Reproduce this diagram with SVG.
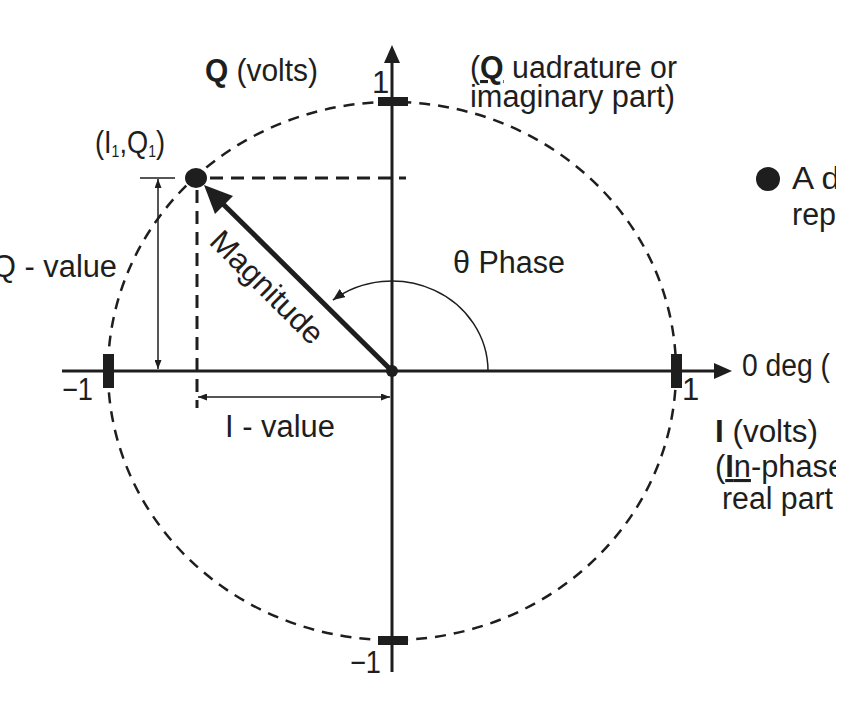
<svg xmlns="http://www.w3.org/2000/svg" width="864" height="710" viewBox="0 0 864 710">
<style>
.t{font-family:"Liberation Sans",Arial,sans-serif;font-size:31px;fill:#1e1e1e}
.b{font-weight:bold}
.ax{stroke:#1e1e1e;stroke-width:3;fill:none}
.dash{stroke:#1e1e1e;stroke-width:3;fill:none;stroke-dasharray:13 8}
.circ{stroke:#1e1e1e;stroke-width:2.5;fill:none;stroke-dasharray:11 8}
.thin{stroke:#1e1e1e;stroke-width:1.5;fill:none}
.tick{fill:#1e1e1e}
</style>
<defs>
<marker id="axarr" viewBox="0 0 18 16" refX="12" refY="8" markerWidth="18" markerHeight="16" markerUnits="userSpaceOnUse" orient="auto"><path d="M0,0 L18,8 L0,16 z" fill="#1e1e1e"/></marker>
<marker id="sm" viewBox="0 0 12 10" refX="12" refY="5" markerWidth="12" markerHeight="10" markerUnits="userSpaceOnUse" orient="auto"><path d="M0,0 L12,5 L0,10 z" fill="#1e1e1e"/></marker>
<marker id="dim" viewBox="0 0 9 7" refX="9" refY="3.5" markerWidth="9" markerHeight="7" markerUnits="userSpaceOnUse" orient="auto-start-reverse"><path d="M0,0 L9,3.5 L0,7 z" fill="#1e1e1e"/></marker>
<clipPath id="cr"><rect x="0" y="0" width="836" height="710"/></clipPath>
</defs>
<rect width="864" height="710" fill="#fff"/>

<g id="unit-circle">
<ellipse class="circ" cx="392" cy="371" rx="284" ry="269"/>
</g>

<g id="axes">
<line class="ax" x1="62" y1="371" x2="726" y2="371" marker-end="url(#axarr)"/>
<line class="ax" x1="392" y1="672" x2="392" y2="51" marker-end="url(#axarr)"/>
<rect class="tick" x="378" y="97" width="30" height="9"/>
<rect class="tick" x="378" y="636" width="30" height="9"/>
<rect class="tick" x="103" y="354" width="11" height="34"/>
<rect class="tick" x="671" y="354" width="11" height="34"/>
<circle cx="392" cy="371" r="6" fill="#1e1e1e"/>
</g>

<g id="connectors">
<line class="dash" x1="210" y1="178" x2="406" y2="178"/>
<line class="dash" x1="197" y1="190" x2="197" y2="408"/>
<line class="thin" x1="140" y1="178" x2="175" y2="178"/>
<line class="thin" x1="158" y1="179" x2="158" y2="369" marker-start="url(#dim)" marker-end="url(#dim)"/>
<line class="thin" x1="198" y1="397" x2="390" y2="397" marker-start="url(#dim)" marker-end="url(#dim)"/>
<path class="thin" d="M488,371 A96,90 0 0 0 332.9,300.1" marker-end="url(#sm)"/>
</g>

<g id="magnitude">
<line x1="392" y1="371" x2="222" y2="203" stroke="#1e1e1e" stroke-width="5"/>
<polygon points="204,185 233,196 215,214" fill="#1e1e1e"/>
<text class="t" transform="translate(208,243) rotate(45)" textLength="146" lengthAdjust="spacingAndGlyphs">Magnitude</text>
</g>

<g id="point">
<ellipse cx="196" cy="178" rx="11" ry="10" fill="#1e1e1e"/>
<text class="t" x="95" y="153" font-size="24" textLength="70" lengthAdjust="spacingAndGlyphs">(I<tspan font-size="16" dy="4">1</tspan><tspan dy="-4">,Q</tspan><tspan font-size="16" dy="4">1</tspan><tspan dy="-4">)</tspan></text>
</g>

<g id="labels">
<text class="t" x="205" y="81" textLength="113" lengthAdjust="spacingAndGlyphs"><tspan class="b">Q</tspan> (volts)</text>
<text class="t" x="470" y="78" textLength="207" lengthAdjust="spacingAndGlyphs">(<tspan class="b" text-decoration="underline">Q</tspan> uadrature or</text>
<text class="t" x="470" y="107" textLength="205" lengthAdjust="spacingAndGlyphs">imaginary part)</text>
<text class="t" x="372" y="93">1</text>
<text class="t" x="453" y="273" textLength="112" lengthAdjust="spacingAndGlyphs">θ Phase</text>
<text class="t" x="-8" y="277" textLength="125" lengthAdjust="spacingAndGlyphs">Q - value</text>
<text class="t" x="62" y="400" textLength="31" lengthAdjust="spacingAndGlyphs">−1</text>
<text class="t" x="682" y="400">1</text>
<text class="t" x="350" y="673" textLength="31" lengthAdjust="spacingAndGlyphs">−1</text>
<text class="t" x="225" y="437" textLength="110" lengthAdjust="spacingAndGlyphs">I - value</text>
<g clip-path="url(#cr)">
<text class="t" x="742" y="376" textLength="88" lengthAdjust="spacingAndGlyphs">0 deg (</text>
<text class="t" x="715" y="442" textLength="103" lengthAdjust="spacingAndGlyphs"><tspan class="b">I</tspan> (volts)</text>
<text class="t" x="715" y="477" textLength="130" lengthAdjust="spacingAndGlyphs">(<tspan text-decoration="underline"><tspan class="b">I</tspan>n</tspan>-phase</text>
<text class="t" x="722" y="509" textLength="111" lengthAdjust="spacingAndGlyphs">real part</text>
<circle cx="768" cy="179" r="12" fill="#1e1e1e"/>
<text class="t" x="792" y="189" textLength="48" lengthAdjust="spacingAndGlyphs">A d</text>
<text class="t" x="792" y="225" textLength="44" lengthAdjust="spacingAndGlyphs">rep</text>
</g>
</g>
</svg>
